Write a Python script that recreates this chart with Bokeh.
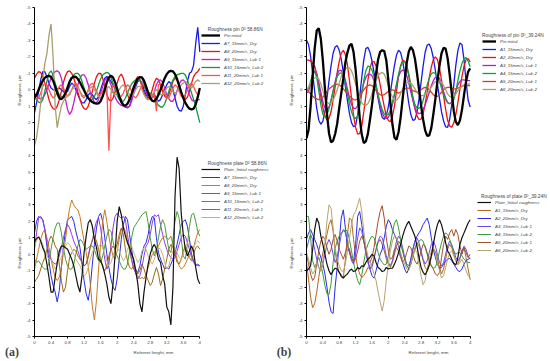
from bokeh.plotting import figure
from bokeh.models import (Range1d, FixedTicker, NumeralTickFormatter, Legend, LegendItem,
                          Label, CustomJSTickFormatter, LinearAxis)
from bokeh.layouts import row
from bokeh.embed import file_html
from bokeh.resources import INLINE

# ---------------- data ----------------
x_mm = [round(0.05 * i, 2) for i in range(81)]   # referent length, mm

x_ticks = [0, 0.4, 0.8, 1.2, 1.6, 2, 2.4, 2.8, 3.2, 3.6, 4]
y_ticks = list(range(-5, 16))

# (a) pin 58.86N  (positive = downwards on the upper panel)
pin_a_names = ["Pin initial", "A7_15mm/s_Dry", "A8_20mm/s_Dry", "A9_15mm/s_Lub 1",
               "A10_15mm/s_Lub 2", "A11_20mm/s_Lub 1", "A12_20mm/s_Lub 2"]
pin_a_initial = [0.5,0.3,0.0,-0.3,-0.55,-0.72,-0.82,-0.85,-0.78,-0.55,
 -0.2,0.2,0.5,0.57,0.45,0.2,-0.15,-0.5,-0.72,-0.8,
 -0.78,-0.65,-0.45,-0.2,0.05,0.3,0.5,0.65,0.75,0.82,
 0.85,0.83,0.7,0.4,0.0,-0.45,-0.75,-0.85,-0.75,-0.45,
 -0.05,0.4,0.75,0.93,0.97,0.85,0.6,0.25,-0.15,-0.45,
 -0.68,-0.77,-0.75,-0.55,-0.2,0.2,0.5,0.68,0.7,0.55,
 0.3,0.0,-0.35,-0.7,-0.95,-1.1,-1.15,-1.12,-0.95,-0.65,
 -0.25,0.15,0.5,0.8,1.0,1.15,1.2,1.15,0.9,0.45,
 -0.1]
pin_a_A7 = [1.4,0.8,0.1,-0.6,-1.1,-1.1,-0.8,-0.4,-0.1,0.0,
 0.05,-0.05,-0.1,0.0,0.1,0.2,0.1,-0.2,-0.4,-0.3,
 0.0,0.3,0.6,0.8,0.8,0.6,0.3,0.2,0.3,0.5,
 0.6,0.4,0.0,-0.4,-0.7,-0.8,-0.7,-0.5,-0.3,-0.1,
 0.1,0.3,0.6,0.9,1.05,1.1,1.0,0.6,0.2,-0.2,
 -0.5,-0.6,-0.4,0.0,0.3,0.5,0.5,0.3,0.3,0.5,
 0.7,0.6,0.3,0.0,-0.3,-0.5,-0.4,0.0,0.5,1.0,
 1.25,1.3,1.0,0.3,-0.5,-1.0,-1.1,-1.5,-2.8,-3.8,
 -2.3]
pin_a_A8 = [-0.7,-0.95,-1.1,-1.05,-0.8,-0.4,0.1,0.6,0.95,1.15,
 1.2,1.0,0.6,0.1,-0.45,-0.85,-1.1,-1.15,-1.0,-0.7,
 -0.3,0.15,0.6,0.95,1.15,1.2,1.0,0.6,0.1,-0.4,
 -0.8,-1.0,-1.0,-0.7,-0.2,0.3,0.6,0.7,0.5,0.1,
 -0.4,-0.8,-0.95,-0.7,-0.2,0.3,0.6,0.4,-0.1,-0.6,
 -0.8,-0.6,-0.2,0.2,0.5,0.6,0.4,0.0,-0.45,-0.7,
 -0.6,-0.3,0.1,0.4,0.5,0.3,-0.1,-0.5,-0.7,-0.6,
 -0.3,0.1,0.45,0.6,0.45,0.1,-0.4,-0.8,-1.0,-1.1,
 -1.3]
pin_a_A9 = [0.2,0.4,0.5,0.55,0.5,0.3,0.0,-0.35,-0.7,-0.95,
 -1.1,-1.15,-1.05,-0.7,-0.1,0.6,1.2,1.5,1.3,0.8,
 0.2,-0.3,-0.7,-0.9,-0.9,-0.7,-0.3,0.15,0.5,0.75,
 0.8,0.6,0.2,-0.2,-0.55,-0.7,-0.6,-0.3,0.1,0.45,
 0.7,0.85,0.95,1.0,1.05,1.05,1.0,0.7,0.2,-0.3,
 -0.65,-0.8,-0.7,-0.35,0.1,0.45,0.6,0.45,0.1,-0.3,
 -0.55,-0.6,-0.45,-0.1,0.3,0.55,0.7,0.7,0.45,0.05,
 -0.35,-0.55,-0.6,-0.45,-0.1,0.3,0.6,0.7,0.65,0.6,
 0.6]
pin_a_A10 = [0.4,0.6,0.75,0.8,0.6,0.1,-0.5,-1.0,-1.15,-0.9,
 -0.4,0.0,0.3,0.4,0.4,0.2,-0.1,-0.4,-0.7,-0.9,
 -1.0,-1.0,-0.85,-0.5,-0.1,0.25,0.5,0.6,0.6,0.4,
 0.1,-0.3,-0.65,-0.9,-1.0,-1.05,-1.0,-0.75,-0.4,0.0,
 0.35,0.6,0.7,0.7,0.5,0.2,-0.1,-0.35,-0.5,-0.6,
 -0.6,-0.55,-0.4,-0.2,0.0,0.15,0.2,0.3,0.5,0.75,
 0.95,1.05,1.05,0.85,0.5,0.1,-0.3,-0.6,-0.8,-0.9,
 -0.95,-1.0,-1.0,-0.9,-0.6,-0.2,0.2,0.6,1.0,1.5,
 2.0]
pin_a_A11 = [0.5,0.6,0.5,0.2,-0.2,-0.4,-0.3,0.0,0.3,0.5,
 0.4,0.1,-0.2,-0.3,-0.1,0.2,0.4,0.3,0.0,-0.3,
 -0.4,-0.2,0.1,0.4,0.5,0.3,0.0,-0.3,-0.4,-0.2,
 0.1,0.3,0.3,0.1,-0.2,-0.2,3.7,0.2,-0.3,-0.2,
 0.1,0.4,0.4,0.2,-0.1,-0.3,-0.2,0.1,0.4,0.5,
 0.3,0.0,-0.3,-0.4,-0.2,0.1,0.4,0.5,0.2,1.3,
 -0.3,-0.4,-0.1,0.2,0.5,0.5,0.2,-0.1,-0.3,-0.2,
 0.1,0.4,0.5,0.3,0.0,-0.3,-0.4,-0.2,0.1,0.3,
 0.2]
pin_a_A12 = [3.4,2.9,2.0,0.8,-0.6,-1.6,-2.2,-3.3,-4.0,-2.0,
 1.0,2.3,1.6,1.0,0.7,0.5,0.4,0.2,0.0,-0.1,
 -0.2,-0.1,0.1,0.3,0.4,0.3,0.1,-0.1,-0.2,0.0,
 0.2,0.4,0.5,0.3,0.1,-0.1,-0.2,0.0,0.2,0.3,
 0.2,0.0,-0.2,-0.3,-0.1,0.1,0.3,0.4,0.2,0.0,
 -0.2,-0.2,0.0,0.3,0.5,0.6,0.5,0.3,0.1,0.0,
 0.1,0.3,0.3,0.1,-0.1,-0.2,-0.1,0.1,0.2,0.1,
 -0.1,-0.3,-0.4,-0.5,-0.4,-0.2,-0.1,-0.3,-0.5,-0.6,
 -0.5]

# (a) plate 58.86N
plate_a_names = ["Plate_Initial roughness", "A7_15mm/s_Dry", "A8_20mm/s_Dry", "A9_15mm/s_Lub 1",
                 "A10_15mm/s_Lub 2", "A11_20mm/s_Lub 1", "A12_20mm/s_Lub 2"]
plate_a_initial = [0.8,0.95,1.05,0.8,0.4,0.1,-0.6,-1.4,-2.3,-2.3,
 -1.4,-0.5,0.2,0.5,0.5,0.4,0.3,0.0,-0.3,-0.7,
 -1.3,-1.9,-2.3,-1.3,0.1,1.1,1.9,2.1,1.7,0.9,
 0.4,-0.3,-0.4,-0.7,-1.2,-1.8,-2.6,-3.0,-1.8,0.0,
 2.0,2.9,2.4,1.6,1.1,0.7,0.4,0.0,-0.3,-1.0,
 -1.8,-3.0,-3.5,-2.3,-1.4,-0.6,0.0,0.4,0.6,0.3,
 -0.3,-0.5,-1.3,-1.8,-3.2,-3.5,-4.3,-2.0,3.5,5.9,
 5.2,2.5,1.2,0.3,-0.1,0.2,0.5,0.2,-0.8,-1.5,
 -1.8]
plate_a_A7 = [1.3,2.0,2.3,2.2,2.1,1.5,0.5,-0.4,-1.3,-1.9,
 -2.3,-2.9,-2.2,-0.8,0.5,1.4,2.1,2.2,2.3,2.0,
 1.4,0.9,0.4,-0.6,-1.6,-2.4,-2.8,-2.0,-0.6,0.6,
 1.6,2.3,2.5,2.0,1.0,0.0,-0.8,-1.5,-2.0,-2.2,
 -1.5,-0.3,0.9,1.8,2.3,2.1,1.2,0.3,-0.5,-1.0,
 -1.1,-0.7,0.0,0.5,0.7,1.2,1.9,2.3,2.2,1.0,
 0.1,-0.3,-0.6,-0.9,-0.8,-0.9,-0.6,-0.3,0.1,0.6,
 1.2,1.8,2.0,2.1,1.7,0.9,0.0,-0.4,-0.7,-0.6,
 -0.7]
plate_a_A8 = [-0.9,-0.3,0.3,0.9,1.3,1.5,1.0,0.4,-0.3,-0.9,
 -1.4,-1.6,-1.4,-0.8,0.1,0.9,2.0,2.8,3.3,3.0,
 2.8,2.7,2.3,1.5,0.8,0.1,-0.7,-1.8,-3.2,-4.0,
 -2.8,-0.9,0.6,2.0,2.7,2.0,1.1,0.4,-0.1,-0.3,
 0.2,0.9,1.5,1.7,1.4,0.8,0.2,-0.4,-0.9,-1.1,
 -1.3,-1.5,-1.4,-1.5,-1.2,-0.8,-0.4,0.0,0.1,0.3,
 0.5,0.8,1.0,1.1,1.0,0.9,1.1,0.6,0.2,-0.3,
 -0.7,-0.9,-0.8,-0.6,-0.3,0.0,0.1,0.4,0.9,1.3,
 1.5]
plate_a_A9 = [0.3,1.3,2.2,2.3,2.1,1.5,0.7,0.0,-0.3,-0.5,
 -0.6,-0.5,-0.1,0.4,1.0,1.5,1.8,1.6,1.2,0.8,
 0.5,0.2,-0.2,-0.5,-0.7,-0.6,-0.1,0.5,0.8,1.5,
 2.0,2.2,1.6,0.6,-0.3,-0.9,-0.6,0.5,1.6,2.3,
 2.5,2.3,2.2,2.3,2.1,1.2,0.4,-0.3,-0.8,-1.2,
 -1.5,-1.3,-0.8,-0.1,0.5,0.7,1.2,1.9,2.4,2.3,
 2.4,1.8,1.2,0.7,0.3,0.0,-0.2,-0.3,-0.2,0.2,
 0.6,1.0,1.2,1.1,0.7,0.3,-0.2,-0.5,-0.6,-0.7,
 -0.7]
plate_a_A10 = [-0.3,-0.5,-0.4,-0.6,-0.8,-0.9,-0.9,-0.5,0.3,1.0,
 1.6,1.9,1.9,1.3,0.4,-0.3,-0.7,-0.9,-0.9,-0.6,
 0.0,0.5,0.9,0.8,0.5,0.3,0.4,0.5,0.5,0.3,
 -0.1,-0.4,-0.5,-0.1,0.5,1.1,1.5,1.4,0.8,0.2,
 -0.1,-0.4,-0.7,-0.9,-0.9,-0.6,0.2,1.0,1.6,1.8,
 2.0,2.2,2.4,2.5,2.6,1.9,1.0,0.3,-0.1,0.3,
 1.0,1.7,2.1,1.8,1.0,0.3,0.1,0.9,2.0,2.6,
 2.2,1.0,-0.1,-0.3,0.6,1.7,2.4,2.5,2.0,1.4,
 1.1]
plate_a_A11 = [-1.7,-1.5,-1.3,-0.9,-0.5,-0.2,0.3,0.8,1.1,0.9,
 0.5,0.3,-0.6,-1.6,-2.3,-2.0,-1.0,-0.2,0.1,0.3,
 0.2,-0.1,-0.3,-0.5,-0.7,-0.6,-0.2,0.4,0.9,1.1,
 0.8,0.3,-0.3,-0.8,-1.0,-0.7,-0.1,0.3,0.5,0.3,
 0.6,1.2,1.6,1.2,0.3,-0.4,-0.8,-0.9,-0.7,-0.9,
 -1.2,-1.0,-0.6,-0.9,-1.3,-1.6,-1.9,-1.7,-1.2,-0.8,
 -1.2,-1.9,-1.5,-0.9,-0.3,0.3,0.6,0.4,0.0,-0.5,
 -0.6,-0.3,0.2,0.5,0.2,-0.2,-0.4,0.0,0.4,0.5,
 0.3]
plate_a_A12 = [0.5,0.8,1.1,0.9,0.6,0.2,-0.1,-0.3,-0.3,-0.6,
 -0.9,-0.7,-0.4,-0.2,0.2,0.5,0.7,0.6,0.3,0.0,
 -0.3,-0.5,-0.7,-1.0,-1.3,-1.2,-0.8,-0.3,0.1,0.4,
 0.3,0.5,0.6,0.4,0.0,-0.4,-0.7,-0.5,-0.1,0.3,
 0.4,0.2,-0.1,-0.4,-0.2,0.3,0.6,0.5,0.1,-0.2,
 -0.5,-0.3,0.2,0.4,0.3,-0.1,-0.4,-0.6,-0.3,0.1,
 0.4,0.3,0.0,-0.5,-0.9,-0.7,-0.2,0.2,0.4,0.1,
 -0.2,-0.3,0.0,0.5,0.7,0.5,0.2,0.4,0.7,0.8,
 0.7]

# (b) pin 39.24N
pin_b_names = ["Pin initial", "A1_15mm/s_Dry", "A2_20mm/s_Dry", "A3_15mm/s_Lub 1",
               "A4_15mm/s_Lub 2", "A5_20mm/s_Lub 1", "A6_20mm/s_Lub 2"]
pin_b_initial = [2.95,2.44,0.99,-0.83,-2.52,-3.6,-3.74,-3.1,-1.77,-0.09,
 1.45,2.64,3.19,3.1,2.69,2.06,1.1,0.2,-0.7,-1.66,
 -2.26,-2.68,-2.79,-2.29,-1.23,0.23,1.68,2.71,3.24,3.14,
 2.68,1.84,0.93,-0.08,-0.99,-1.84,-2.3,-2.4,-2.35,-1.8,
 -0.6,0.8,2.1,2.9,3.03,2.57,1.69,0.56,-0.57,-1.64,
 -2.32,-2.6,-2.41,-1.89,-1.02,-0.04,0.94,1.81,2.47,2.8,
 2.77,2.33,1.49,0.56,-0.53,-1.46,-2.22,-2.55,-2.5,-1.9,
 -0.9,0.2,1.3,1.96,2.15,1.86,1.22,0.32,-0.5,-1.09,
 -1.3]
pin_b_A1 = [-3.0,-2.75,-2.03,-1.01,0.11,1.13,1.85,2.1,1.91,1.33,
 0.52,-0.54,-1.45,-2.22,-2.6,-2.68,-2.4,-1.85,-1.05,-0.2,
 0.65,1.45,2.0,2.25,2.18,1.52,0.44,-0.74,-1.82,-2.5,
 -2.58,-2.29,-1.76,-1.06,-0.27,0.52,1.18,1.67,1.8,1.59,
 1.04,0.2,-0.68,-1.48,-2.11,-2.4,-2.27,-1.76,-0.98,-0.04,
 0.83,1.51,1.86,1.82,1.38,0.54,-0.45,-1.44,-2.28,-2.71,
 -2.78,-2.49,-1.93,-1.17,-0.35,0.52,1.33,1.89,2.25,2.28,
 1.78,0.9,-0.3,-1.5,-2.38,-2.85,-2.74,-1.83,-0.49,0.62,
 1.05]
pin_b_A2 = [-1.8,-1.8,-1.75,-1.6,-1.43,-0.98,-0.29,0.44,1.09,1.61,
 1.84,1.75,1.34,0.62,-0.19,-1.04,-1.72,-2.23,-2.4,-2.14,
 -1.52,-0.55,0.48,1.57,2.29,2.7,2.66,2.21,1.35,0.41,
 -0.58,-1.3,-1.71,-1.71,-1.44,-0.94,-0.31,0.4,1.03,1.58,
 1.87,1.95,1.63,0.98,0.08,-0.83,-1.46,-1.8,-1.71,-1.4,
 -0.85,-0.19,0.54,1.16,1.59,1.81,1.79,1.46,0.85,0.12,
 -0.73,-1.38,-1.85,-2.0,-1.83,-1.31,-0.58,0.37,1.18,1.87,
 2.21,2.28,2.01,1.5,0.79,-0.05,-0.81,-1.44,-1.82,-1.9,
 -1.7]
pin_b_A3 = [0.2,0.1,-0.35,-0.9,-1.15,-0.95,-0.45,0.15,0.75,1.1,
 1.2,1.05,0.65,0.1,-0.5,-0.95,-1.18,-1.18,-1.0,-0.6,
 -0.05,0.5,0.9,1.12,1.15,0.98,0.6,0.1,-0.4,-0.75,
 -0.93,-0.95,-0.85,-0.55,-0.1,0.45,0.95,1.4,1.65,1.75,
 1.68,1.4,0.9,0.3,-0.3,-0.8,-1.1,-1.2,-1.13,-0.85,
 -0.4,0.15,0.65,1.1,1.37,1.45,1.4,1.22,0.92,0.55,
 0.15,-0.25,-0.55,-0.75,-0.8,-0.7,-0.35,0.1,0.5,0.78,
 0.85,0.75,0.45,0.05,-0.3,-0.5,-0.6,-0.6,-0.55,-0.55,
 -0.55]
pin_b_A4 = [0.0,-0.1,-0.5,-0.95,-1.1,-0.75,0.05,0.9,1.5,1.65,
 1.5,1.15,0.65,0.1,-0.4,-0.8,-1.0,-1.03,-0.8,-0.35,
 0.25,0.85,1.35,1.65,1.75,1.6,1.05,0.25,-0.55,-1.15,
 -1.43,-1.4,-1.2,-0.8,-0.25,0.3,0.8,1.2,1.48,1.55,
 1.5,1.25,0.8,0.25,-0.35,-0.95,-1.4,-1.7,-1.73,-1.5,
 -0.95,-0.25,0.45,0.9,1.12,1.13,1.0,0.65,0.2,-0.3,
 -0.7,-0.97,-1.05,-0.98,-0.8,-0.5,-0.1,0.3,0.6,0.78,
 0.85,0.83,0.6,0.1,-0.55,-1.15,-1.6,-1.88,-1.95,-1.75,
 -1.4]
pin_b_A5 = [0.0,0.1,0.25,0.4,0.5,0.55,0.6,0.55,0.45,0.3,
 0.1,-0.05,-0.15,-0.25,-0.3,-0.35,-0.3,-0.2,-0.05,0.1,
 0.25,0.4,0.5,0.6,0.62,0.55,0.4,0.2,0.0,-0.15,
 -0.25,-0.3,-0.25,-0.1,0.05,0.2,0.3,0.35,0.3,0.2,
 0.1,0.05,0.0,0.05,0.15,0.2,0.15,0.05,-0.05,-0.1,
 -0.1,-0.05,0.05,0.1,0.15,0.1,0.0,-0.1,-0.15,-0.1,
 0.0,0.15,0.3,0.4,0.4,0.3,0.15,0.0,-0.1,-0.15,
 -0.15,-0.1,-0.05,-0.05,-0.1,-0.15,-0.2,-0.25,-0.25,-0.25,
 -0.25]
pin_b_A6 = [0.0,-0.15,-0.4,-0.6,-0.72,-0.75,-0.65,-0.35,0.05,0.45,
 0.75,0.85,0.82,0.65,0.35,0.0,-0.4,-0.8,-1.1,-1.3,
 -1.35,-1.33,-1.15,-0.8,-0.35,0.1,0.5,0.8,0.93,0.95,
 0.85,0.6,0.25,-0.15,-0.55,-0.85,-1.0,-1.05,-0.95,-0.65,
 -0.25,0.15,0.45,0.62,0.65,0.5,0.25,-0.05,-0.3,-0.43,
 -0.45,-0.4,-0.25,-0.05,0.15,0.28,0.35,0.35,0.3,0.2,
 0.05,-0.15,-0.35,-0.5,-0.55,-0.55,-0.45,-0.25,0.0,0.25,
 0.4,0.45,0.4,0.25,0.05,-0.1,-0.2,-0.3,-0.35,-0.35,
 -0.35]

# (b) plate 39.24N
plate_b_names = ["Plate_Initial roughness", "A1_15mm/s_Dry", "A2_20mm/s_Dry", "A3_15mm/s_Lub 1",
                 "A4_15mm/s_Lub 2", "A5_20mm/s_Lub 1", "A6_20mm/s_Lub 2"]
plate_b_initial = [-1.0,-0.9,-0.7,0.3,1.5,2.2,1.9,1.1,0.6,0.0,
 -0.6,-1.0,-1.25,-1.0,-0.85,-0.9,-1.1,-1.3,-1.45,-1.3,
 -1.2,-1.0,-0.9,-1.05,-1.0,-0.8,-0.9,-0.7,-0.75,-0.5,
 -0.3,-0.2,0.0,-0.1,-0.5,-0.8,-0.9,-1.05,-1.0,-0.8,
 -0.9,-0.85,-0.85,-0.6,-0.3,0.1,0.6,1.1,1.5,1.8,
 2.0,1.7,1.4,1.1,0.5,-0.2,-0.8,-1.1,-1.25,-1.0,
 -0.65,-0.1,0.6,1.3,1.8,2.1,1.8,1.3,0.7,0.2,
 0.0,-0.3,-0.55,-0.65,-0.2,0.6,1.0,1.3,1.6,1.9,
 2.1]
plate_b_A1 = [-0.5,-1.5,-2.6,-3.25,-3.0,-2.3,-1.4,-0.6,0.1,0.6,
 1.2,1.8,2.1,1.4,0.2,-0.65,-1.1,-1.4,-1.45,-0.3,
 1.2,2.2,2.1,0.9,-0.1,-0.8,-1.2,-1.4,-1.3,-1.1,
 -0.8,-0.9,-0.6,-0.2,0.3,0.7,0.9,0.6,0.2,-0.3,
 -0.6,-0.8,-0.5,0.0,0.5,0.8,0.6,0.2,-0.3,-0.7,
 -0.9,-0.6,-0.1,0.4,0.7,0.5,0.1,-0.4,-0.8,-1.0,
 -0.7,-0.2,0.3,0.2,-0.3,-0.8,-1.2,-0.9,-0.3,0.3,
 0.6,0.4,0.0,-0.4,-0.6,-0.3,0.2,0.4,-0.2,-0.9,
 -1.55]
plate_b_A2 = [0.9,1.3,1.5,1.2,0.9,0.6,0.2,-0.2,-0.6,-1.2,
 -2.0,-2.9,-3.5,-3.6,-2.0,-0.8,0.8,2.2,2.7,1.6,
 0.5,0.1,-0.3,-0.45,0.6,2.3,2.6,1.8,0.9,0.2,
 -0.4,-0.9,-1.3,-1.45,-1.0,-0.5,0.0,0.3,1.0,1.7,
 2.1,1.9,1.5,1.2,0.9,0.5,0.0,-0.5,-0.9,-1.15,
 -0.9,-0.3,0.3,0.8,1.1,1.3,1.5,1.8,2.0,2.2,
 1.8,1.0,0.3,-0.2,-0.6,-0.85,-0.8,-0.6,-0.4,-0.3,
 -0.25,-0.4,-0.6,-0.8,-1.0,-1.05,-0.9,-0.6,-0.4,-0.3,
 -0.25]
plate_b_A3 = [0.3,0.8,1.2,0.9,0.3,-0.3,-0.8,-1.0,-0.6,0.0,
 0.6,0.9,0.6,0.0,-0.5,-0.2,0.5,1.2,1.5,1.3,
 0.8,0.2,-0.4,-0.6,0.0,1.0,1.6,1.4,0.8,0.1,
 -0.5,-0.9,-0.8,-0.3,0.3,0.8,1.1,1.0,0.5,-0.1,
 -0.5,-0.7,-0.4,0.2,0.8,1.1,0.9,0.4,-0.2,-0.6,
 -0.7,-0.3,0.3,0.8,1.0,0.7,0.2,-0.3,-0.6,-0.4,
 0.1,0.6,0.8,0.5,0.0,-0.5,-0.7,-0.5,0.0,0.5,
 0.8,0.6,0.2,-0.2,-0.4,-0.2,0.2,0.5,0.3,-0.1,
 -0.3]
plate_b_A4 = [2.3,2.3,1.0,-0.4,-0.8,-0.5,-0.2,-0.6,-1.2,-1.9,
 -2.4,-2.45,-1.8,-0.5,0.35,0.8,1.1,1.3,1.4,1.5,
 1.4,0.9,0.2,-0.5,-1.1,-1.6,-1.85,-1.3,-0.5,0.2,
 0.6,0.9,1.1,1.0,0.6,0.1,-0.3,-0.5,-0.65,-0.6,
 -0.1,0.6,1.3,1.9,2.1,1.6,0.9,0.2,-0.3,-0.7,
 -0.85,-0.6,-0.1,0.3,0.6,0.8,0.9,0.8,0.4,0.0,
 -0.4,-0.7,-0.85,-0.8,-0.4,0.2,0.7,1.1,1.3,1.2,
 0.9,0.5,0.2,0.0,0.1,0.1,-0.1,-0.3,-0.4,-0.5,
 -0.5]
plate_b_A5 = [0.0,-0.6,-1.2,-1.6,-1.4,-0.6,0.2,0.8,1.1,0.9,
 0.4,0.0,0.3,0.9,1.2,0.8,0.3,0.0,-0.3,0.1,
 0.5,0.3,-0.2,-0.5,-0.3,0.2,0.8,1.1,0.8,0.2,
 -0.3,-0.5,-0.2,0.4,1.2,2.0,2.6,2.95,2.2,1.0,
 0.2,-0.3,-0.2,0.3,0.4,0.2,-0.2,-0.5,-0.3,0.1,
 0.5,0.4,0.0,-0.4,-0.6,-0.3,0.2,0.6,0.5,0.1,
 -0.4,-0.7,-0.9,-1.2,-1.3,-1.1,-0.2,0.6,1.1,0.9,
 1.3,1.5,1.1,1.5,1.2,0.5,0.0,0.4,0.1,-0.2,
 0.0]
plate_b_A6 = [0.1,-0.3,-0.8,-1.2,-1.0,-0.5,-0.8,-1.05,-0.5,0.6,
 2.0,3.0,2.8,1.6,0.4,-0.3,-0.7,-1.0,-1.05,-0.6,
 0.2,1.0,1.8,2.4,2.6,3.0,3.4,2.6,1.4,0.5,
 -0.1,-0.5,-0.8,-1.2,-1.6,-2.3,-2.9,-3.45,-2.8,-1.6,
 -0.6,0.2,0.8,1.1,1.0,0.6,0.1,-0.3,-0.6,-0.9,
 -1.0,-0.6,-0.1,0.3,0.1,-0.6,-1.3,-1.85,-1.6,-0.9,
 -0.3,0.2,0.4,0.1,-0.5,-1.0,-1.45,-1.3,-0.8,-0.3,
 0.1,0.2,-0.1,-0.4,-0.65,-0.5,-0.3,-0.6,-1.0,-1.3,
 -1.45]

pin_a = [pin_a_initial, pin_a_A7, pin_a_A8, pin_a_A9, pin_a_A10, pin_a_A11, pin_a_A12]
plate_a = [plate_a_initial, plate_a_A7, plate_a_A8, plate_a_A9, plate_a_A10, plate_a_A11, plate_a_A12]
pin_b = [pin_b_initial, pin_b_A1, pin_b_A2, pin_b_A3, pin_b_A4, pin_b_A5, pin_b_A6]
plate_b = [plate_b_initial, plate_b_A1, plate_b_A2, plate_b_A3, plate_b_A4, plate_b_A5, plate_b_A6]
for grp in (pin_a, plate_a, pin_b, plate_b):
    for s in grp:
        if len(s) != len(x_mm):
            raise ValueError("length mismatch %d" % len(s))

# ---------------- styles ----------------
pin_a_colors = ["#000000", "#1a1ae6", "#f01010", "#c020d0", "#109a3a", "#ff5050", "#a8a070"]
plate_a_colors = ["#111111", "#2a2ae6", "#c8781e", "#8c3ce6", "#4c9a3c", "#9a6a14", "#c8b478"]
pin_b_colors = ["#000000", "#1a1ae6", "#f01010", "#b020c8", "#10a040", "#d0402a", "#a8a070"]
plate_b_colors = ["#111111", "#b4661e", "#2a2ae6", "#6a4ae6", "#3c9a3c", "#a0502a", "#b4a46e"]

FONT = "Liberation Sans"
FS = "4.4px"
FS_TITLE = "4.8px"
NB = "\u00a0"
FIG_H = 361
FRAME_TOP = 7
FRAME_BOTTOM = 338


def style_legend(leg, glyph_w):
    leg.title_text_font = FONT
    leg.title_text_font_size = FS_TITLE
    leg.title_text_font_style = "normal"
    leg.title_standoff = 0
    leg.label_text_font = FONT
    leg.label_text_font_size = FS
    leg.label_text_font_style = "italic"
    leg.label_height = 6
    leg.glyph_height = 6
    leg.glyph_width = glyph_w
    leg.label_standoff = 4
    leg.spacing = 2
    leg.padding = 0
    leg.margin = 0
    leg.border_line_color = None
    leg.background_fill_alpha = 0


def make_strip(width, ylab_x, tag, tag_center):
    # narrow text strip left of each chart: axis titles and the panel tag
    s = figure(width=width, height=FIG_H, output_backend="svg", toolbar_location=None,
               x_range=Range1d(0, width), y_range=Range1d(FRAME_BOTTOM, FRAME_TOP),
               x_axis_type=None, y_axis_type=None, min_border_left=0, min_border_right=0,
               min_border_top=FRAME_TOP, min_border_bottom=FIG_H - FRAME_BOTTOM)
    s.grid.visible = False
    s.outline_line_color = None
    for yc in (90, 254):
        s.add_layout(Label(x=ylab_x, y=yc, text="Roughness, \u03bcm", angle=90, angle_units="deg",
                           text_align="center", text_baseline="middle",
                           text_font=FONT, text_font_size=FS))
    tag_axis = LinearAxis(ticker=FixedTicker(ticks=[]), bounds=(0, 2 * tag_center),
                          axis_line_color=None, major_tick_line_color=None,
                          minor_tick_line_color=None, major_tick_out=0, major_tick_in=0,
                          major_label_standoff=0, major_label_text_font_size="0px",
                          axis_label=tag, axis_label_text_font="Liberation Serif",
                          axis_label_text_font_style="bold", axis_label_text_font_size="12px",
                          axis_label_standoff=8)
    s.add_layout(tag_axis, "below")
    return s


def make_panel(width, border_left, x_end, pins, pin_names, pin_colors, plates, plate_names,
               plate_colors, pin_title, plate_title, pin_loc, plate_loc, glyph_w):
    p = figure(width=width, height=FIG_H, output_backend="svg", toolbar_location=None,
               x_range=Range1d(0, x_end), y_range=Range1d(-5, 15),
               min_border_left=border_left, min_border_right=0, min_border_top=FRAME_TOP,
               min_border_bottom=FIG_H - FRAME_BOTTOM)
    p.extra_y_ranges = {"pin": Range1d(15, -5)}
    p.grid.visible = False
    p.outline_line_color = None

    xa = p.xaxis[0]
    xa.bounds = (0, 4)
    xa.ticker = FixedTicker(ticks=x_ticks)
    xa.formatter = NumeralTickFormatter(format="0.[0]")
    xa.axis_label = "Referent lenght, mm"
    ya = p.yaxis[0]
    ya.bounds = (-5, 15)
    ya.ticker = FixedTicker(ticks=y_ticks)
    ya.formatter = CustomJSTickFormatter(code="return tick <= 5 ? String(tick) : String(10 - tick)")
    for ax in (xa, ya):
        ax.major_label_text_font = FONT
        ax.major_label_text_font_size = FS
        ax.axis_label_text_font = FONT
        ax.axis_label_text_font_size = FS
        ax.axis_label_text_font_style = "normal"
        ax.major_tick_out = 2
        ax.major_tick_in = 0
        ax.minor_tick_line_color = None
        ax.major_label_standoff = 2
        ax.axis_label_standoff = 3
        ax.axis_line_color = "black"
        ax.major_tick_line_color = "black"

    pin_r = [None] * 7
    for i in list(range(1, 7)) + [0]:
        pin_r[i] = p.line(x_mm, pins[i], y_range_name="pin", line_color=pin_colors[i],
                          line_width=2.3 if i == 0 else 1.3)
    plate_r = [None] * 7
    for i in list(range(1, 7)) + [0]:
        plate_r[i] = p.line(x_mm, plates[i], line_color=plate_colors[i],
                            line_width=1.2 if i == 0 else 1.0)

    leg1 = Legend(items=[LegendItem(label=pin_names[i], renderers=[pin_r[i]]) for i in range(7)],
                  location=pin_loc, title=pin_title)
    leg2 = Legend(items=[LegendItem(label=plate_names[i], renderers=[plate_r[i]]) for i in range(7)],
                  location=plate_loc, title=plate_title)
    for leg in (leg1, leg2):
        style_legend(leg, glyph_w)
        p.add_layout(leg)
    return p


strip_a = make_strip(23, 19, "(a)", 9.5)
pa = make_panel(249, 10, 239 / 41.5, pin_a, pin_a_names, pin_a_colors, plate_a, plate_a_names,
                plate_a_colors, NB * 5 + "Roughness pin 0\u1d30 58.86N",
                NB * 5 + "Roughness plate 0\u1d30 58.86N", (167, 250), (167, 116), 19)
strip_b = make_strip(23, 19, "(b)", 9)
pb = make_panel(255, 9, 246 / 41.25, pin_b, pin_b_names, pin_b_colors, plate_b, plate_b_names,
                plate_b_colors, "Roughness of pin 0\u1d30_39.24N",
                NB * 3 + "Roughness of plate 0\u1d30_39.24N", (176, 244), (171, 83), 14)

layout = row(strip_a, pa, strip_b, pb)
open("out.html", "w").write(file_html(layout, INLINE))
